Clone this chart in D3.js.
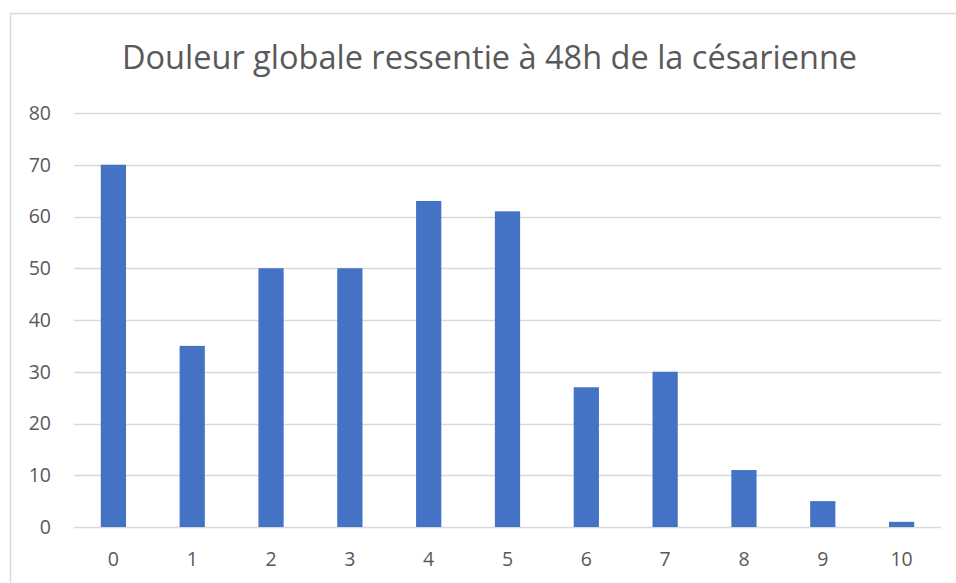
<!DOCTYPE html>
<html>
<head>
<meta charset="utf-8">
<script src="https://cdn.jsdelivr.net/npm/d3@7"></script>
<style>
  body { margin: 0; background: #fff; }
  text { font-family: "Open Sans", "Liberation Sans", sans-serif; fill: #595959; }
</style>
</head>
<body>
<svg id="chart" width="956" height="583"></svg>
<script>
const titleText = "Douleur globale ressentie à 48h de la césarienne";
const categories = ["0", "1", "2", "3", "4", "5", "6", "7", "8", "9", "10"];
const counts = [70, 35, 50, 50, 63, 61, 27, 30, 11, 5, 1];
const yTicks = [0, 10, 20, 30, 40, 50, 60, 70, 80];

const svg = d3.select("#chart");
const width = +svg.attr("width");
const height = +svg.attr("height");

// chart frame (right and bottom edges fall outside the picture)
svg.append("path")
  .attr("d", `M10.5,${height} V13.5 H${width}`)
  .attr("fill", "none")
  .attr("stroke", "#d9d9d9")
  .attr("stroke-width", 1.5);

const plotL = 74, plotR = 941, plotT = 113, plotB = 527;

const x = d3.scaleBand().domain(categories).range([plotL, plotR]).paddingInner(0.68).paddingOuter(0.34);
const y = d3.scaleLinear().domain([0, 80]).range([plotB, plotT]);

// gridlines
svg.append("g")
  .selectAll("line")
  .data(yTicks)
  .join("line")
  .attr("x1", plotL)
  .attr("x2", plotR)
  .attr("y1", d => Math.round(y(d)) + 0.5)
  .attr("y2", d => Math.round(y(d)) + 0.5)
  .attr("stroke", "#d9d9d9")
  .attr("stroke-width", 1.5);

// bars
svg.append("g")
  .selectAll("rect")
  .data(counts)
  .join("rect")
  .attr("x", (d, i) => x(categories[i]))
  .attr("y", d => y(d))
  .attr("width", x.bandwidth())
  .attr("height", d => y(0) - y(d))
  .attr("fill", "#4472c4");

// y axis labels
const yAxis = svg.append("g")
  .attr("transform", `translate(51,0)`)
  .call(d3.axisLeft(y).tickValues(yTicks).tickSize(0).tickPadding(0));
yAxis.attr("font-size", 19.5).attr("font-family", null);
yAxis.select(".domain").remove();
yAxis.selectAll("text").attr("fill", "#595959");

// x axis labels
const xAxis = svg.append("g")
  .attr("transform", `translate(0,552)`)
  .call(d3.axisBottom(x).tickSize(0).tickPadding(0));
xAxis.attr("font-size", 19.5).attr("font-family", null);
xAxis.select(".domain").remove();
xAxis.selectAll("text").attr("fill", "#595959");

// title
svg.append("text")
  .attr("x", 489.5)
  .attr("y", 69)
  .attr("text-anchor", "middle")
  .attr("font-size", 32.5)
  .text(titleText);
</script>
</body>
</html>
